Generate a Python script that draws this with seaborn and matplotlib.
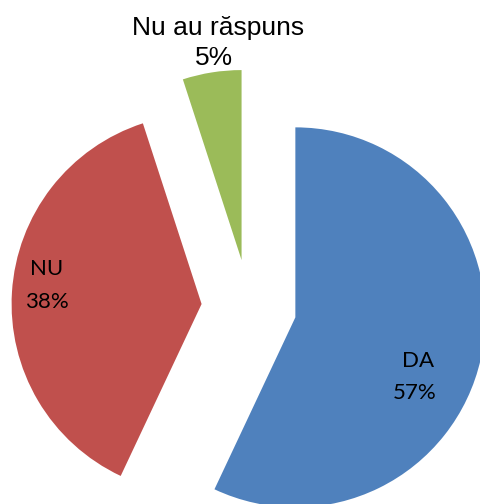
import matplotlib
matplotlib.use("Agg")
import matplotlib.pyplot as plt
import seaborn as sns

categories = ["DA", "NU", "Nu au răspuns"]
values = [57, 38, 5]
pct_labels = ["57%", "38%", "5%"]
colors = ["#4F81BD", "#C0504D", "#9BBB59"]

sns.set_theme(style="white")
plt.rcParams["font.family"] = ["Liberation Sans", "DejaVu Sans"]

W, H = 480, 504
fig = plt.figure(figsize=(W / 100, H / 100), dpi=100)
ax = fig.add_axes([0, 0, 1, 1])

R = 190.0
cx, cy = 249.0, 307.0
ax.pie(values, colors=colors, startangle=90, counterclock=False,
       explode=[0.25, 0.25, 0.25], radius=1.0, center=(0, 0),
       wedgeprops=dict(linewidth=0))
ax.set_xlim(-cx / R, (W - cx) / R)
ax.set_ylim(-(H - cy) / R, cy / R)
ax.set_aspect("auto")
ax.axis("off")

def px(x, y):
    return x / W, 1 - y / H

label_pos = {
    "DA": [(418, 367), (415, 399)],
    "NU": [(46.5, 275), (47, 308)],
    "Nu au răspuns": [(218, 35), (214, 65)],
}
for cat, pct in zip(categories, pct_labels):
    (x1, y1), (x2, y2) = label_pos[cat]
    if cat == "Nu au răspuns":
        fam, size = ["Liberation Sans", "DejaVu Sans"], 19
    else:
        fam, size = ["Lato", "DejaVu Sans"], 16
    fig.text(*px(x1, y1), cat, ha="center", va="baseline", fontsize=size,
             family=fam, color="black")
    fig.text(*px(x2, y2), pct, ha="center", va="baseline", fontsize=size,
             family=fam, color="black")

fig.savefig("out.png", dpi=100, facecolor="white")
